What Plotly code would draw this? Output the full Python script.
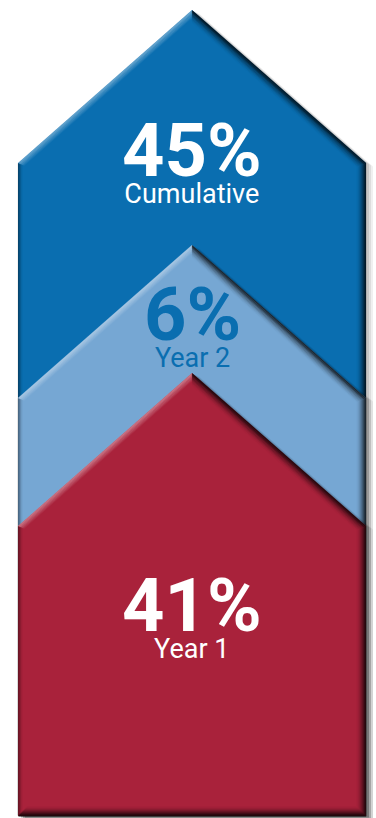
import plotly.graph_objects as go
import math

# ---- data ----
labels = ["Cumulative", "Year 2", "Year 1"]
values = [45, 6, 41]
fill_colors = ["#0a6eb0", "#76a7d3", "#a9223b"]
text_colors = ["#ffffff", "#0a6eb0", "#ffffff"]

# ---- layout geometry (pixel space) ----
W, H = 376, 818
LEFT, RIGHT, BOTTOM = 18, 366, 816
CX = (LEFT + RIGHT) / 2
apex_y = [10, 245, 373]
DROP = 153
text_y = [158, 322, 613]

HALF = (RIGHT - LEFT) / 2
SLOPE = DROP / HALF
FAC = math.sqrt(1 + SLOPE ** 2)


def arrow(top, d=0.0, dx=0.0, dy=0.0):
    l, r, b = LEFT + d, RIGHT - d, BOTTOM - d
    ay = top + d * FAC
    sh = ay + SLOPE * (HALF - d)
    xs = [l, l, CX, r, r, l]
    ys = [b, sh, ay, sh, b, b]
    return [x + dx for x in xs], [y + dy for y in ys]


fig = go.Figure()


def add(xs, ys, **kw):
    fig.add_trace(go.Scatter(x=xs, y=ys, hoverinfo="skip", showlegend=False, **kw))


for i, top in enumerate(apex_y):
    # soft drop shadow
    for off, a in [(7, 0.06), (5, 0.08), (3, 0.10)]:
        xs, ys = arrow(top, 0, off, off * 0.5)
        add(xs, ys, mode="lines", fill="toself", fillcolor=f"rgba(0,0,0,{a})",
            line=dict(width=0))
    # body
    xs, ys = arrow(top)
    add(xs, ys, mode="lines", fill="toself", fillcolor=fill_colors[i], line=dict(width=0))
    # dark bevel on right & bottom
    n = 10
    for k in range(n):
        d = 0.5 + k
        a = 0.75 * (1 - k / n) ** 2
        xs, ys = arrow(top, d)
        add([xs[2], xs[3], xs[4], xs[5]], [ys[2], ys[3], ys[4], ys[5]], mode="lines",
            line=dict(width=1.3, color=f"rgba(0,0,0,{a:.3f})"))
    # subtle dark on left vertical edge
    for k in range(5):
        d = 0.5 + k
        a = 0.35 * (1 - k / 5) ** 2
        xs, ys = arrow(top, d)
        add([xs[0], xs[1]], [ys[0], ys[1]], mode="lines",
            line=dict(width=1.3, color=f"rgba(0,0,0,{a:.3f})"))
    # light highlight on left slope
    for k in range(6):
        d = 0.5 + k
        a = 0.30 * (1 - k / 6)
        xs, ys = arrow(top, d)
        add([xs[1], xs[2]], [ys[1], ys[2]], mode="lines",
            line=dict(width=1.3, color=f"rgba(255,255,255,{a:.3f})"))

FONT = "Roboto, Liberation Sans, Arial, sans-serif"
for i in range(len(values)):
    txt = (f"<span style='font-size:74px'><b>{values[i]}%</b></span><br>"
           f"<span style='font-size:27px'>{labels[i]}</span>")
    fig.add_annotation(x=CX, y=text_y[i], text=txt, showarrow=False,
                       font=dict(family=FONT, size=21, color=text_colors[i]),
                       xanchor="center", yanchor="middle", align="center")

fig.update_layout(
    width=W, height=H, margin=dict(l=0, r=0, t=0, b=0),
    paper_bgcolor="white", plot_bgcolor="white",
    xaxis=dict(range=[0, W], visible=False, fixedrange=True),
    yaxis=dict(range=[H, 0], visible=False, fixedrange=True),
)
fig.write_html("out.html", config={"displayModeBar": False})
